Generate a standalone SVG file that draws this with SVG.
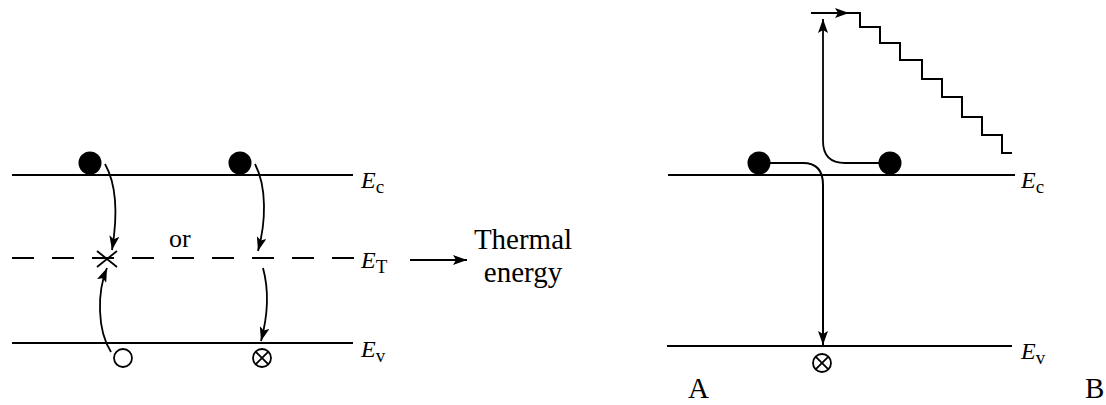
<svg xmlns="http://www.w3.org/2000/svg" width="1106" height="405" viewBox="0 0 1106 405">
<style>
.ln{stroke:#000;stroke-width:2;fill:none}
.th{stroke:#000;stroke-width:1.8;fill:none}
.dash{stroke:#000;stroke-width:2;fill:none;stroke-dasharray:22 18}
.lbl{font-family:"Liberation Serif",serif;font-style:italic;font-size:24px;fill:#000}
.sub{font-style:normal;font-size:19px}
.txt{font-family:"Liberation Serif",serif;font-size:29px;fill:#000}
.dot{fill:#000}
.hole{fill:#fff;stroke:#000;stroke-width:1.8}
</style>
<defs>
<marker id="ah" viewBox="0 0 14 10" refX="14" refY="5" markerWidth="14" markerHeight="10" markerUnits="userSpaceOnUse" orient="auto">
<path d="M0,0 L14,5 L0,10 L3,5 Z" fill="#000"/>
</marker>
</defs>
<g id="panelA">
<g id="levelsA">
<line class="ln" x1="12" y1="175" x2="353" y2="175"/>
<line class="dash" x1="12" y1="258" x2="356" y2="258"/>
<line class="ln" x1="12" y1="343" x2="353" y2="343"/>
</g>
<g id="labelsA">
<text class="lbl" x="361" y="188">E<tspan class="sub" dy="5">c</tspan></text>
<text class="lbl" x="361" y="268">E<tspan class="sub" dy="5">T</tspan></text>
<text class="lbl" x="361" y="357">E<tspan class="sub" dy="5">v</tspan></text>
<text class="txt" x="169" y="247" style="font-size:26px">or</text>
<text class="txt" x="523" y="249" text-anchor="middle">Thermal</text>
<text class="txt" x="523" y="282" text-anchor="middle">energy</text>
<text class="txt" x="688" y="398">A</text>
</g>
<g id="electron1"><circle class="dot" cx="90" cy="163" r="11.5"/></g>
<g id="electron2"><circle class="dot" cx="240" cy="163" r="11.5"/></g>
<g id="trap"><path class="th" d="M97,251 L117,267 M97,267 L117,251"/></g>
<g id="hole1"><circle class="hole" cx="123" cy="358" r="9"/></g>
<g id="hole2"><circle class="hole" cx="262" cy="358" r="9"/><path class="th" d="M255.6,351.6 L268.4,364.4 M255.6,364.4 L268.4,351.6"/></g>
<g id="connectorsA">
<path class="th" d="M105,164 C118,187 117,220 112,250" marker-end="url(#ah)"/>
<path class="th" d="M111,352 C97,330 97,292 107,268" marker-end="url(#ah)"/>
<path class="th" d="M255,164 C267,187 266,222 258,251" marker-end="url(#ah)"/>
<path class="th" d="M263,268 C269,290 268,315 261,341" marker-end="url(#ah)"/>
<path class="th" d="M410,260 L467,260" marker-end="url(#ah)"/>
</g>
</g>
<g id="panelB">
<g id="levelsB">
<line class="ln" x1="668" y1="175" x2="1015" y2="175"/>
<line class="ln" x1="667" y1="346" x2="1012" y2="346"/>
</g>
<g id="labelsB">
<text class="lbl" x="1021" y="188">E<tspan class="sub" dy="5">c</tspan></text>
<text class="lbl" x="1021" y="359">E<tspan class="sub" dy="5">v</tspan></text>
<text class="txt" x="1085" y="398">B</text>
</g>
<g id="electron3"><circle class="dot" cx="759" cy="163" r="11.5"/></g>
<g id="electron4"><circle class="dot" cx="890" cy="163" r="11.5"/></g>
<g id="hole3"><circle class="hole" cx="822" cy="363" r="9"/><path class="th" d="M815.6,356.6 L828.4,369.4 M815.6,369.4 L828.4,356.6"/></g>
<g id="connectorsB">
<path class="ln" d="M768,163 L803,163 Q823,163 823,185 L823,345" marker-end="url(#ah)"/>
<path class="th" d="M880,163 L845,163 Q823,163 823,141 L823,19" marker-end="url(#ah)"/>
<path class="th" d="M811,13 L849,13" marker-end="url(#ah)"/>
<path class="ln" d="M845,13 L860,13 L860,27 L880,27 L880,43 L900,43 L900,60 L922,60 L922,79 L942,79 L942,97 L962,97 L962,117 L982,117 L982,135 L1002,135 L1002,153 L1012,153"/>
</g>
</g>
</svg>
